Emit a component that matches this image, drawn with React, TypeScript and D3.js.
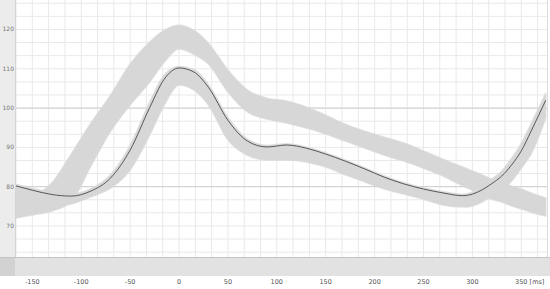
import * as d3 from "d3";

// sample times (ms) shared by all series
const times = [-167, -150, -130, -110, -90, -70, -50, -30, -15, 0, 15, 30, 50, 70, 90, 110, 130, 150, 170, 190, 210, 230, 250, 270, 290, 300, 310, 320, 330, 340, 350, 360, 375];

// wide envelope (upper band)
const bandAUpper = [76.1, 77.4, 81.0, 88.4, 96.2, 103.3, 111.2, 116.8, 119.8, 121.1, 119.8, 116.5, 109.7, 104.6, 102.5, 101.8, 100.3, 98.2, 95.9, 94.1, 92.6, 91.1, 89.1, 87.0, 85.0, 84.0, 83.0, 81.9, 81.2, 80.2, 79.4, 78.4, 77.1];
const bandALower = [72.0, 72.8, 73.8, 76.3, 85.3, 94.1, 100.8, 106.6, 111.7, 115.0, 113.7, 111.2, 104.1, 99.0, 97.2, 96.2, 94.9, 93.4, 91.6, 89.8, 88.0, 86.5, 84.7, 82.7, 80.2, 79.1, 77.9, 76.8, 76.1, 75.1, 74.3, 73.5, 72.5];

// narrow envelope (lower band)
const bandBUpper = [80.6, 79.6, 78.5, 78.1, 79.5, 83.0, 90.5, 101.5, 108.5, 110.6, 109.8, 106.0, 97.6, 92.1, 90.5, 90.9, 90.1, 88.6, 86.8, 84.8, 82.7, 81.0, 79.7, 78.7, 78.1, 78.6, 79.8, 81.9, 84.0, 87.2, 91.0, 96.0, 103.8];
const bandBLower = [72.0, 73.5, 74.6, 75.6, 77.4, 79.6, 84.2, 93.1, 100.8, 105.9, 104.6, 100.8, 91.9, 88.0, 86.8, 86.8, 86.3, 85.0, 83.0, 81.2, 79.4, 78.1, 76.8, 75.3, 74.8, 75.1, 76.1, 77.6, 79.1, 81.4, 84.7, 88.3, 97.5];

// single dark trace
const traceLine = [80.2, 79.1, 78.0, 77.6, 78.9, 82.2, 89.3, 100.1, 107.4, 110.2, 109.2, 105.3, 96.9, 91.6, 90.1, 90.6, 89.8, 88.3, 86.5, 84.5, 82.4, 80.7, 79.4, 78.4, 77.7, 78.1, 79.2, 80.8, 82.7, 85.5, 89.1, 94.1, 102.0];

const xTicks = [-150, -100, -50, 0, 50, 100, 150, 200, 250, 300, 350];
const yTicks = [120, 110, 100, 90, 80, 70];
const yStrong = [100, 80];

export default function App() {
    const width = 550;
    const height = 289;
    const left = 16;
    const right = 547;
    const plotBottom = 257;
    const bandBottom = 276;

    const x = d3.scaleLinear().domain([-166.7, 376.3]).range([left, right]);
    const y = d3.scaleLinear().domain([62.1, 127.5]).range([plotBottom, 0]);

    const vGrid = d3.range(-150 - 50, 400, 50 / 3).filter(t => x(t) > left && x(t) < right);
    const hGrid = d3.range(60, 130, 10 / 3).filter(v => y(v) > 0 && y(v) < plotBottom);

    const area = (up, lo) =>
        d3.area()
            .x((d, i) => x(times[i]))
            .y0((d, i) => y(lo[i]))
            .y1((d, i) => y(up[i]))
            .curve(d3.curveMonotoneX)(up);

    const line = d3.line()
        .x((d, i) => x(times[i]))
        .y(d => y(d))
        .curve(d3.curveMonotoneX);

    const band = "#d7d7d7";

    return (
        <svg width={width} height={height} style={{ position: "absolute", left: 0, top: 0, background: "#fff" }}>
            <defs>
                <clipPath id="plot">
                    <rect x={left} y={0} width={right - left} height={plotBottom} />
                </clipPath>
            </defs>

            {/* grid */}
            {vGrid.map((t, i) => (
                <line key={"v" + i} x1={x(t)} x2={x(t)} y1={0} y2={plotBottom} stroke="#e9e9e9" strokeWidth={1} />
            ))}
            {hGrid.map((v, i) => (
                <line key={"h" + i} x1={left} x2={right} y1={y(v)} y2={y(v)} stroke="#e9e9e9" strokeWidth={1} />
            ))}
            {yStrong.map(v => (
                <line key={"s" + v} x1={left} x2={right} y1={y(v)} y2={y(v)} stroke="#cfcfcf" strokeWidth={1} />
            ))}

            {/* envelopes */}
            <g clipPath="url(#plot)">
                <path d={area(bandAUpper, bandALower)} fill={band} stroke={band} strokeWidth={1.5} strokeOpacity={0.7} />
                <path d={area(bandBUpper, bandBLower)} fill={band} stroke={band} strokeWidth={1.5} strokeOpacity={0.7} />
                <path d={line(traceLine)} fill="none" stroke="#4a4a4a" strokeWidth={0.9} />
            </g>

            {/* left axis strip */}
            <rect x={0} y={0} width={left - 1} height={plotBottom} fill="#ececec" />
            <line x1={left - 0.5} x2={left - 0.5} y1={0} y2={plotBottom} stroke="#d4d4d4" />
            {yTicks.map(v => (
                <text key={"yl" + v} x={14} y={y(v) + 2} textAnchor="end" fontSize={6} fontFamily="DejaVu Sans" fill="#777">
                    {v}
                </text>
            ))}
            <line x1={right + 0.5} x2={right + 0.5} y1={0} y2={plotBottom} stroke="#dcdcdc" />

            {/* bottom band */}
            <rect x={0} y={plotBottom} width={width} height={bandBottom - plotBottom} fill="#e2e2e2" />
            <rect x={0} y={plotBottom} width={left - 1} height={bandBottom - plotBottom} fill="#d2d2d2" />
            <line x1={0} x2={width} y1={plotBottom + 0.5} y2={plotBottom + 0.5} stroke="#c4c4c4" />

            {/* x labels */}
            {xTicks.map(t => (
                <text key={"xl" + t} x={x(t)} y={284} textAnchor="middle" fontSize={6.5} fontFamily="DejaVu Sans" fill="#555">
                    {t}
                </text>
            ))}
            <text x={537} y={284} textAnchor="middle" fontSize={6.5} fontFamily="DejaVu Sans" fill="#555">[ms]</text>
        </svg>
    );
}
